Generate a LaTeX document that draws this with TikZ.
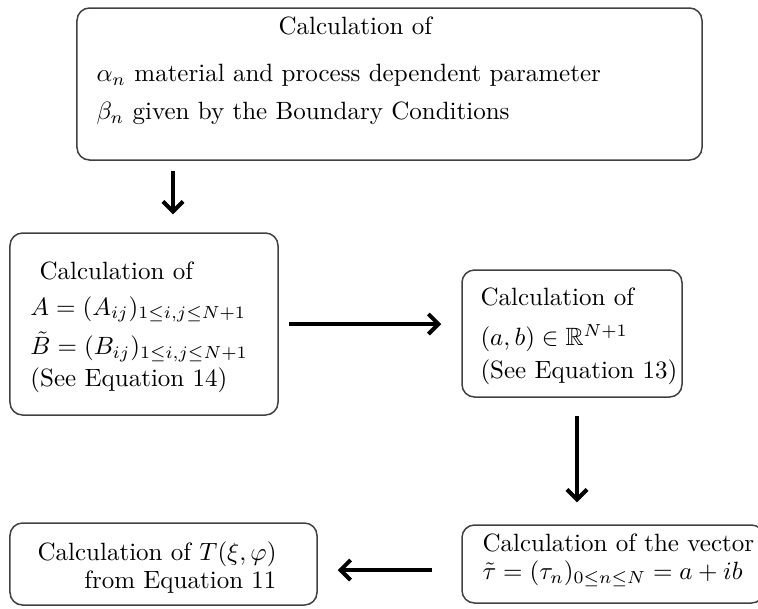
\documentclass[tikz,border=0pt]{standalone}
\usepackage{amsmath,amssymb}
\usetikzlibrary{arrows.meta}

\begin{document}
\begin{tikzpicture}[x=0.4pt,y=-0.4pt,
  calcbox/.style={draw=black!75,line width=0.6pt,rounded corners=5pt,inner sep=0pt},
  calctext/.style={inner sep=0pt,align=left},
  flow/.style={line width=1.6pt,-{Straight Barb[length=4pt,width=8pt]}}]
  \useasboundingbox (0,0) rectangle (758,608);
  % boxes
  \node[calcbox,minimum width=250pt,minimum height=60.8pt] (param) at (389.5,84) {};
  \node[calcbox,minimum width=107.2pt,minimum height=72.8pt] (mat) at (144,324) {};
  \node[calcbox,minimum width=88pt,minimum height=50.8pt] (vec) at (572,333.5) {};
  \node[calcbox,minimum width=122.8pt,minimum height=32.8pt] (res) at (163.5,564) {};
  \node[calcbox,minimum width=120.8pt,minimum height=31.2pt] (tau) at (613,564) {};
  % texts
  \node[calctext,anchor=north west] (paramtext) at (96,16.6)
    {\hspace*{72.8pt}Calculation of\\[6.8pt]
     $\alpha_n$ material and process dependent parameter\\[3.2pt]
     $\beta_n$ given by the Boundary Conditions};
  \node[calctext,anchor=north west] (mattext) at (30,261.6)
    {\hspace*{3.6pt}Calculation of\\[2.2pt]
     $A=(A_{ij})_{1\le i,j\le N+1}$\\[2.6pt]
     $\tilde B=(B_{ij})_{1\le i,j\le N+1}$\\[1pt]
     (See Equation 14)};
  \node[calctext,anchor=north west] (vectext) at (480,287.6)
    {Calculation of\\[4pt]
     $(a,b)\in\mathbb{R}^{N+1}$\\[1.2pt]
     (See Equation 13)};
  \node[calctext,align=right,anchor=north east] (restext) at (277,541.25)
    {Calculation of $T(\xi,\varphi)$\\[-0.8pt]
     from Equation 11};
  \node[calctext,anchor=north west] (tautext) at (482,533.6)
    {Calculation of the vector\\[-0.8pt]
     $\tilde\tau=(\tau_n)_{0\le n\le N}=a+ib$};
  % arrows
  \draw[flow,shorten <=4pt,shorten >=7.2pt] ([xshift=11.6pt]mat.north |- param.south) -- ([xshift=11.6pt]mat.north);
  \draw[flow,shorten <=4pt,shorten >=8pt] (mat.east) -- (mat.east -| vec.west);
  \draw[flow,shorten <=7.2pt,shorten >=8.8pt] ([xshift=2pt]vec.south) -- ([xshift=2pt]vec.south |- tau.north);
  \draw[flow,shorten <=11.6pt,shorten >=8pt] ([yshift=-2.4pt]tau.west) -- ([yshift=-2.4pt]tau.west -| res.east);
\end{tikzpicture}
\end{document}
